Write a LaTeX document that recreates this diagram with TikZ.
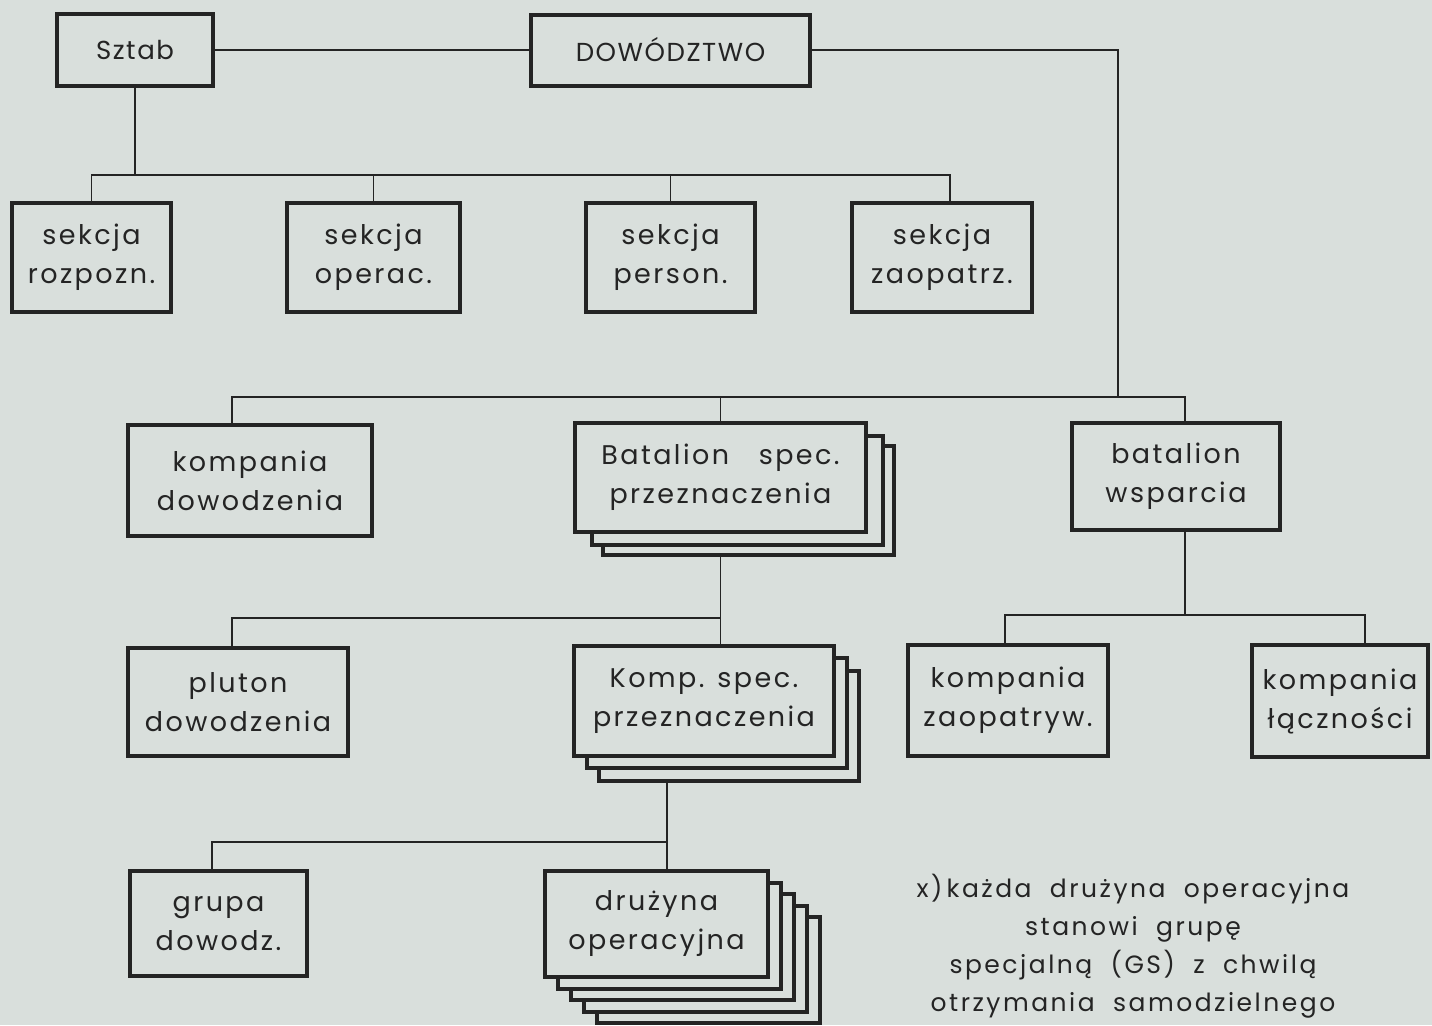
\documentclass[tikz,border=0pt]{standalone}
\usepackage{fontspec}
\setmainfont{Poppins}[LetterSpace=9]
\newfontfamily\capsfont{Poppins}[LetterSpace=6]
\newfontfamily\notefont{Poppins}[LetterSpace=10,WordSpace=2]
\usetikzlibrary{calc}
\definecolor{paper}{RGB}{217,223,220}
\definecolor{ink}{RGB}{36,36,36}
\pgfdeclarelayer{paper}
\pgfdeclarelayer{wires}
\pgfsetlayers{paper,wires,main}

\begin{document}
\begin{tikzpicture}[x=0.5pt,y=-0.5pt,
  sz/.style 2 args={minimum width=#1*0.5pt, minimum height=#2*0.5pt},
  box/.style={draw=ink, line width=2pt, fill=paper, text=ink, align=center,
    inner sep=0pt, font=\fontsize{13.5}{19.5}\selectfont},
  headbox/.style={box, font=\capsfont\fontsize{13}{15}\selectfont},
  wire/.style={draw=ink, line width=0.9pt},
  note/.style={text=ink, align=center, inner sep=0pt, font=\notefont\fontsize{12.5}{19}\selectfont},
]
\useasboundingbox (0,0) rectangle (1432,1025);
\begin{pgfonlayer}{paper}
  \fill[paper] (0,0) rectangle (1432,1025);
\end{pgfonlayer}

% command level
\node[headbox, sz={156}{72}] (sztab) at (135,50) {Sztab};
\node[headbox, sz={279}{71}] (dow) at (670.5,50) {DOWÓDZTWO};

% staff sections
\node[box, sz={159}{109}] (rozp) at (91.5,257.5) {sekcja\\rozpozn.};
\node[box, sz={173}{109}] (oper) at (373.5,257.5) {sekcja\\operac.};
\node[box, sz={169}{109}] (pers) at (670.5,257.5) {sekcja\\person.};
\node[box, sz={180}{109}] (zaop) at (942,257.5) {sekcja\\zaopatrz.};

% battalion level
\node[box, sz={244}{111}] (kd) at (250,480.5) {kompania\\dowodzenia};
\node[box, sz={291}{109}] (bs3) at (748.5,500.5) {};
\node[box, sz={291}{109}] (bs2) at (737.5,490.5) {};
\node[box, sz={291}{109}] (bs) at (720.5,477.5) {Batalion\hspace{1.1em}spec.\\przeznaczenia};
\node[box, sz={208}{107}] (bw) at (1176,476.5) {batalion\\wsparcia};

% company level
\node[box, sz={220}{108}] (pl) at (238,702) {pluton\\dowodzenia};
\node[box, sz={260}{110}] (kp3) at (729,726) {};
\node[box, sz={260}{110}] (kp2) at (717,713) {};
\node[box, sz={260}{110}] (kp) at (704,701) {Komp. spec.\\przeznaczenia};
\node[box, sz={200}{111}] (kz) at (1008,700.5) {kompania\\zaopatryw.};
\node[box, sz={176}{112}] (kl) at (1340,701) {kompania\\łączności};

% team level
\node[box, sz={177}{105}] (gr) at (218.5,923.5) {grupa\\dowodz.};
\node[box, sz={223}{106}] (dr5) at (708.5,970) {};
\node[box, sz={223}{106}] (dr4) at (695.5,958.5) {};
\node[box, sz={223}{106}] (dr3) at (682.5,947) {};
\node[box, sz={223}{106}] (dr2) at (669.5,935.5) {};
\node[box, sz={223}{106}] (dr) at (656.5,924) {drużyna\\operacyjna};

% footnote
\node[note] (fn) at (1133,946) {x)\,każda drużyna operacyjna\\stanowi grupę\\specjalną (GS) z chwilą\\otrzymania samodzielnego};

% bus points and drop points
\coordinate (b1) at (138,175);
\coordinate (b2) at (1118,397);
\coordinate (b3) at (720,618);
\coordinate (b4) at (1185,615);
\coordinate (b5) at (667,842);
\coordinate (kd-up) at ([xshift=-9pt]kd.north);
\coordinate (bw-up) at ([xshift=4.5pt]bw.north);
\coordinate (pl-up) at ([xshift=-3pt]pl.north);
\coordinate (kz-up) at ([xshift=-1.5pt]kz.north);
\coordinate (kl-up) at ([xshift=12.5pt]kl.north);
\coordinate (gr-up) at ([xshift=-3.25pt]gr.north);
\coordinate (dr-up) at ([xshift=5.25pt]dr.north);
\coordinate (zaop-up) at ([xshift=4pt]zaop.north);

\begin{pgfonlayer}{wires}
  \draw[wire] (sztab) -- (dow);
  \draw[wire] (sztab) -- (sztab |- b1);
  \draw[wire] (rozp) -- (rozp |- b1) -- (zaop-up |- b1) -- (zaop-up);
  \draw[wire] (oper) -- (oper |- b1);
  \draw[wire] (pers) -- (pers |- b1);
  \draw[wire] (dow) -| (b2);
  \draw[wire] (kd-up) -- (kd-up |- b2) -| (bw-up);
  \draw[wire] (bs) -- (bs |- b2);
  \draw[wire] (bs) -- (bs |- kp.north);
  \draw[wire] (pl-up) |- (b3);
  \draw[wire] (bw-up) -- (bw-up |- b4);
  \draw[wire] (kz-up) -- (kz-up |- b4) -| (kl-up);
  \draw[wire] (dr-up) -- (dr-up |- kp);
  \draw[wire] (gr-up) |- (b5);
\end{pgfonlayer}
\end{tikzpicture}
\end{document}
